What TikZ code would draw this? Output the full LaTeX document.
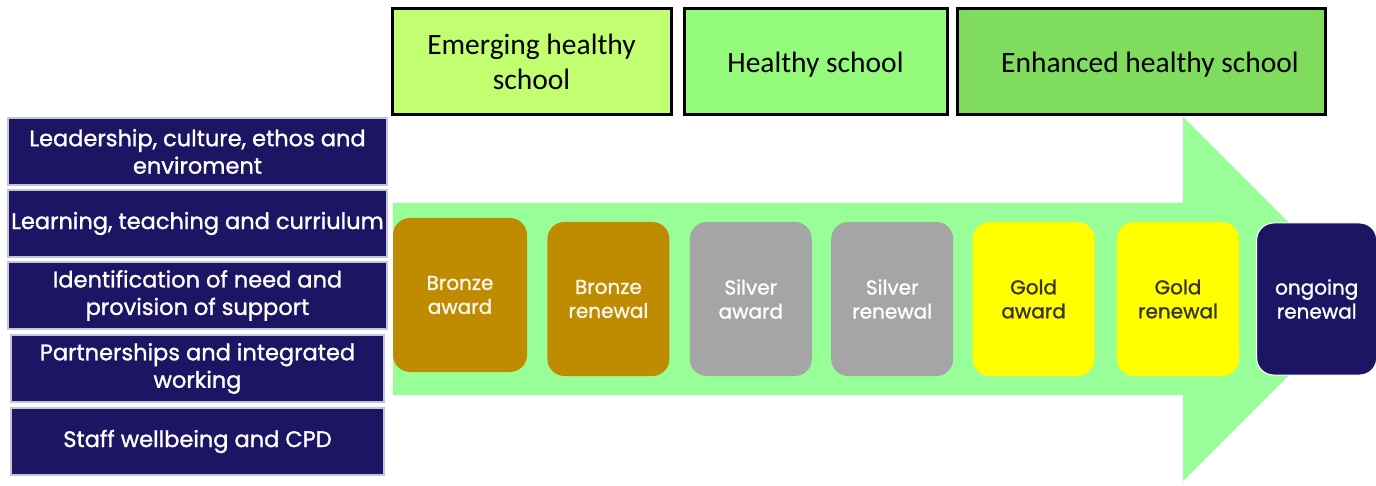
\documentclass[tikz,border=0pt]{standalone}
\usepackage{fontspec}
\setmainfont{Poppins}
\newfontfamily\labelfont{Poppins}[FakeBold=1.2]
\newfontfamily\bandfont{Carlito}
\usepackage{xcolor}
\usetikzlibrary{positioning}

\definecolor{navy}{RGB}{28,21,99}
\definecolor{emerging}{RGB}{193,255,112}
\definecolor{healthy}{RGB}{148,250,124}
\definecolor{enhanced}{RGB}{128,220,92}
\definecolor{arrowgreen}{RGB}{152,255,152}
\definecolor{bronze}{RGB}{191,139,0}
\definecolor{silver}{RGB}{165,165,165}
\definecolor{gold}{RGB}{255,255,0}

\begin{document}
\begin{tikzpicture}[
  x=1pt, y=-1pt,
  node distance=3.5pt and 20pt,
  area/.style={rectangle, draw=navy!25, line width=1.5pt, fill=navy, text=white,
               minimum width=379pt, minimum height=67pt, inner sep=0pt, align=center,
               font=\labelfont\fontsize{22.5}{27.5}\selectfont},
  band/.style={rectangle, draw=black, line width=3pt, minimum height=106pt, inner sep=0pt,
               align=center, font=\bandfont\fontsize{29.5}{35}\selectfont},
  award/.style={rectangle, rounded corners=17pt, minimum width=122pt, minimum height=154pt,
                inner sep=0pt, align=center, text=white, font=\labelfont\fontsize{20}{24}\selectfont},
]
  \useasboundingbox (0,0) rectangle (1376,486);

  % big green arrow behind the awards
  \fill[arrowgreen] (393,203) -- (1183,203) -- (1183,117) -- (1365,299)
    -- (1183,481) -- (1183,395) -- (393,395) -- cycle;

  % stages along the top
  \node[band, fill=emerging, minimum width=279pt] (emerg) at (531.5,62) {Emerging healthy\\school};
  \node[band, fill=healthy, minimum width=263pt, text depth=0pt] (hlth) at (815.5,62) {Healthy school};
  \node[band, fill=enhanced, minimum width=368pt, text depth=0pt] (enh) at (1141,62) {\hspace{18pt}Enhanced healthy school};

  % focus areas down the left
  \node[area] (lead) at (197.5,151.5) {Leadership, culture, ethos and\\enviroment};
  \node[area, below=of lead] (learn) {Learning, teaching and curriulum};
  \node[area, below=of learn] (need) {Identification of need and\\provision of support};
  \node[area, below=4.5pt of need, minimum width=373pt] (partner) {Partnerships and integrated\\working};
  \node[area, below=4.5pt of partner, minimum width=373pt] (staff) {Staff wellbeing and CPD};

  % award steps
  \node[award, fill=bronze, text=white!92!bronze, minimum width=134pt] (bza) at (460,295) {Bronze\\award};
  \node[award, fill=bronze, text=white!92!bronze, right=of bza, yshift=-4pt] (bzr) {Bronze\\renewal};
  \node[award, fill=silver, right=of bzr] (sva) {Silver\\award};
  \node[award, fill=silver, right=19pt of sva] (svr) {Silver\\renewal};
  \node[award, fill=gold, text=black!80!olive, right=19pt of svr] (gda) {Gold\\award};
  \node[award, fill=gold, text=black!80!olive, right=22pt of gda] (gdr) {Gold\\renewal};
  \node[award, fill=navy, draw=white, line width=1pt, minimum width=120pt, minimum height=152pt,
        right=17pt of gdr] (ongo) {ongoing\\renewal};
\end{tikzpicture}
\end{document}
